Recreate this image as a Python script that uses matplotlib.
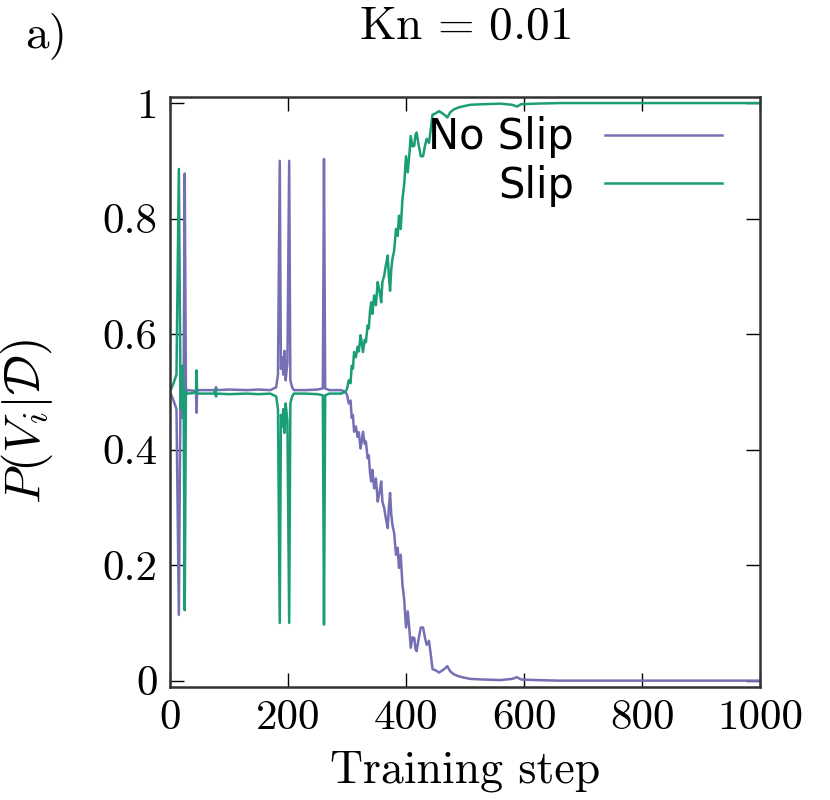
import matplotlib
matplotlib.use("Agg")
import matplotlib.pyplot as plt

plt.rcParams["font.family"] = "serif"
plt.rcParams["font.serif"] = ["cmr10"]
plt.rcParams["mathtext.fontset"] = "cm"
plt.rcParams["axes.formatter.use_mathtext"] = True

# Werte
steps = [0, 6, 11, 15, 18, 21, 23, 25, 27, 30,
         40, 44, 45, 46, 60, 75, 77, 78, 79, 100,
         130, 150, 170, 180, 183, 186, 188, 190, 192, 194,
         196, 199, 202, 204, 207, 210, 230, 250, 259, 261,
         263, 270, 290, 297, 300, 303, 306, 308, 310, 312,
         315, 318, 320, 323, 325, 327, 330, 332, 335, 337,
         339, 341, 343, 346, 349, 352, 355, 358, 360, 363,
         366, 369, 371, 373, 375, 377, 380, 383, 386, 388,
         391, 394, 397, 400, 403, 406, 408, 411, 414, 416,
         418, 421, 425, 429, 432, 435, 439, 442, 445, 450,
         456, 462, 466, 470, 475, 481, 488, 495, 509, 530,
         560, 580, 588, 595, 620, 660, 700, 800, 900, 1000]

slip = [0.500, 0.515, 0.530, 0.886, 0.470, 0.545, 0.500, 0.122, 0.500, 0.497,
        0.498, 0.500, 0.537, 0.497, 0.497, 0.497, 0.505, 0.492, 0.497, 0.496,
        0.497, 0.496, 0.497, 0.492, 0.470, 0.100, 0.460, 0.440, 0.470, 0.429,
        0.480, 0.450, 0.100, 0.480, 0.492, 0.497, 0.497, 0.496, 0.494, 0.097,
        0.494, 0.497, 0.497, 0.500, 0.505, 0.520, 0.515, 0.545, 0.540, 0.569,
        0.560, 0.578, 0.570, 0.598, 0.585, 0.569, 0.590, 0.586, 0.615, 0.610,
        0.640, 0.655, 0.635, 0.667, 0.650, 0.690, 0.675, 0.655, 0.690, 0.701,
        0.720, 0.736, 0.700, 0.675, 0.712, 0.730, 0.745, 0.782, 0.770, 0.805,
        0.782, 0.834, 0.860, 0.908, 0.880, 0.915, 0.943, 0.925, 0.926, 0.945,
        0.949, 0.930, 0.908, 0.908, 0.925, 0.938, 0.931, 0.955, 0.980, 0.982,
        0.986, 0.982, 0.979, 0.975, 0.984, 0.989, 0.992, 0.994, 0.997, 0.998,
        0.999, 0.997, 0.994, 0.998, 0.999, 1.000, 1.000, 1.000, 1.000, 1.000]

no_slip = [0.500, 0.485, 0.470, 0.114, 0.530, 0.455, 0.500, 0.878, 0.500, 0.503,
           0.502, 0.500, 0.464, 0.503, 0.503, 0.503, 0.495, 0.508, 0.503, 0.504,
           0.503, 0.504, 0.503, 0.508, 0.530, 0.900, 0.540, 0.560, 0.530, 0.571,
           0.520, 0.550, 0.900, 0.520, 0.508, 0.503, 0.503, 0.504, 0.506, 0.903,
           0.506, 0.503, 0.503, 0.500, 0.495, 0.480, 0.485, 0.455, 0.460, 0.431,
           0.440, 0.422, 0.430, 0.402, 0.415, 0.431, 0.410, 0.414, 0.385, 0.390,
           0.360, 0.345, 0.365, 0.333, 0.350, 0.310, 0.325, 0.345, 0.310, 0.299,
           0.280, 0.264, 0.300, 0.325, 0.288, 0.270, 0.255, 0.218, 0.230, 0.195,
           0.218, 0.166, 0.140, 0.092, 0.120, 0.085, 0.057, 0.075, 0.074, 0.055,
           0.051, 0.070, 0.092, 0.092, 0.075, 0.062, 0.069, 0.045, 0.020, 0.018,
           0.014, 0.018, 0.021, 0.025, 0.016, 0.011, 0.008, 0.006, 0.003, 0.002,
           0.001, 0.003, 0.006, 0.002, 0.001, 0.000, 0.000, 0.000, 0.000, 0.000]

x_ticks = [0, 200, 400, 600, 800, 1000]
y_ticks = [0, 0.2, 0.4, 0.6, 0.8, 1]
y_labels = ["0", "0.2", "0.4", "0.6", "0.8", "1"]

fig = plt.figure(figsize=(8.3, 8.0), dpi=100)
ax = fig.add_axes([170 / 830, 1 - 687 / 800, 590 / 830, 590 / 800])

ax.plot(steps, no_slip, color="#7570b3", lw=1.8, label="No Slip")
ax.plot(steps, slip, color="#1b9e77", lw=1.8, label="Slip")

ax.set_xlim(0, 1000)
ax.set_ylim(-0.011, 1.0105)
ax.set_xticks(x_ticks)
ax.set_xticklabels([str(t) for t in x_ticks])
ax.set_yticks(y_ticks)
ax.set_yticklabels(y_labels)
ax.tick_params(direction="in", top=True, right=True, length=10, width=1,
               labelsize=31, pad=9)
for s in ax.spines.values():
    s.set_linewidth(1.8)
    s.set_color("#333333")

ax.set_xlabel("Training step", fontsize=33)
ax.xaxis.set_label_coords(0.5, -0.108)
ax.set_ylabel(r"$P(V_i|\mathcal{D})$", fontsize=36)
ax.yaxis.set_label_coords(-0.195, 0.45)

leg = ax.legend(loc="upper right", bbox_to_anchor=(0.9356, 0.967),
                markerfirst=False, frameon=False, borderpad=0, borderaxespad=0,
                handlelength=2.8, handletextpad=0.75, labelspacing=0.15,
                prop={"family": "DejaVu Sans", "size": 30})

fig.text(465 / 830, 1 - 27 / 800, r"$\mathrm{Kn}\,=\,0.01$", fontsize=34,
         ha="center", va="center")
fig.text(25 / 830, 1 - 36 / 800, "a)", fontsize=34, ha="left", va="center")

fig.savefig("out.png", dpi=100)
